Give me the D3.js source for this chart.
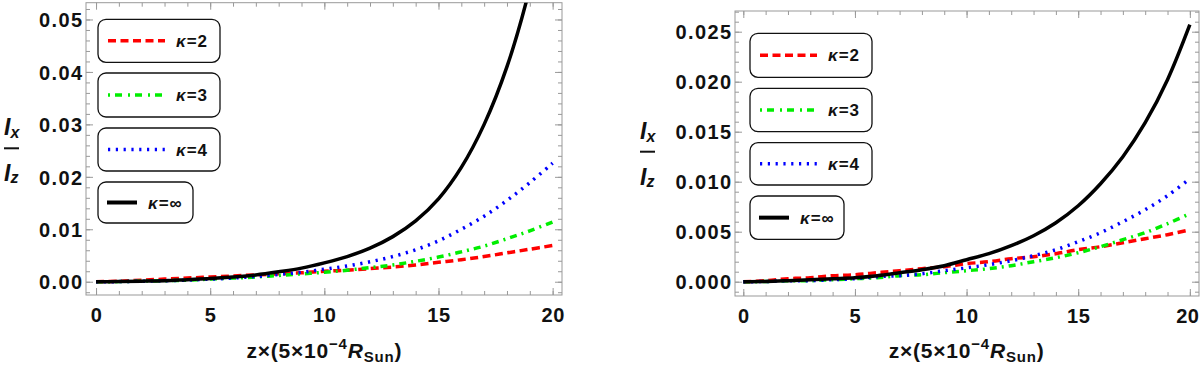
<!DOCTYPE html>
<html>
<head>
<meta charset="utf-8">
<script src="https://cdn.jsdelivr.net/npm/d3@7"></script>
<style>
  body { margin: 0; background: #fff; }
  text { font-family: "Liberation Sans", Arial, sans-serif; font-weight: bold; fill: #111; }
</style>
</head>
<body>
<div id="chart"></div>
<script>
// sample points along z (units of 5e-4 R_sun)
var zValues = [0, 1, 2, 3, 4, 5, 6, 7, 8, 9, 10, 11, 12, 13, 14, 15, 16, 17, 18, 19, 20];

// left panel, Ix/Iz
var leftK2   = [0, 0.0001, 0.0003, 0.0005, 0.0007, 0.0009, 0.0011, 0.0013, 0.0015, 0.0017, 0.0020, 0.0022, 0.0025, 0.0028, 0.0032, 0.0037, 0.0042, 0.0048, 0.0055, 0.0062, 0.0069];
var leftK3   = [0, 0.00002, 0.0001, 0.0002, 0.0003, 0.0005, 0.0007, 0.0009, 0.0012, 0.0015, 0.0018, 0.0022, 0.0027, 0.0032, 0.0039, 0.0047, 0.0057, 0.0068, 0.0082, 0.0097, 0.0114];
var leftK4   = [0, 0.00002, 0.0001, 0.0002, 0.0003, 0.0005, 0.0007, 0.0010, 0.0014, 0.0018, 0.0024, 0.0030, 0.0038, 0.0048, 0.0061, 0.0078, 0.0100, 0.0125, 0.0155, 0.0189, 0.0226];
var leftKinf = [0, 0.00003, 0.0001, 0.0002, 0.0004, 0.0006, 0.0009, 0.0013, 0.0019, 0.0026, 0.0036, 0.0048, 0.0064, 0.0086, 0.0116, 0.0158, 0.0218, 0.0300, 0.0410, 0.0560, 0.0760];

// right panel, Ix/Iz
var rightK2   = [0, 0.0001, 0.0003, 0.0004, 0.0006, 0.0007, 0.0009, 0.0011, 0.0013, 0.0015, 0.0018, 0.0020, 0.0023, 0.0025, 0.0028, 0.0032, 0.0035, 0.0039, 0.0043, 0.0047, 0.0052];
var rightK3   = [0, 0.00002, 0.0001, 0.0001, 0.0002, 0.0003, 0.0004, 0.0006, 0.0007, 0.0009, 0.0011, 0.0013, 0.0016, 0.0020, 0.0024, 0.0029, 0.0035, 0.0042, 0.0049, 0.0058, 0.0068];
var rightK4   = [0, 0.00002, 0.0001, 0.0001, 0.0002, 0.0003, 0.0005, 0.0006, 0.0008, 0.0011, 0.0014, 0.0017, 0.0021, 0.0026, 0.0032, 0.0040, 0.0049, 0.0060, 0.0072, 0.0086, 0.0103];
var rightKinf = [0, 0.00002, 0.0001, 0.0002, 0.0003, 0.0004, 0.0006, 0.0009, 0.0012, 0.0016, 0.0022, 0.0028, 0.0036, 0.0046, 0.0059, 0.0076, 0.0098, 0.0125, 0.0159, 0.0202, 0.0257];

var kappaLabels = ["2", "3", "4", "\u221e"];
var xTicks = [0, 5, 10, 15, 20];
var leftYTicks = [0, 0.01, 0.02, 0.03, 0.04, 0.05];
var rightYTicks = [0, 0.005, 0.010, 0.015, 0.020, 0.025];

var styles = [
  { color: "#ff0000", dash: "8,4.5", width: 3.5 },
  { color: "#00ee00", dash: "7,5,2,5", width: 3.5 },
  { color: "#0000ff", dash: "2.2,5.6", width: 3.5 },
  { color: "#000000", dash: null, width: 3.5 }
];
var legendDash = ["8,4.5", "2,5,7,6", "2.2,5.6", null];

var svg = d3.select("#chart").append("svg")
    .attr("width", 1200)
    .attr("height", 365);

function drawPanel(p, idx) {
  var x = d3.scaleLinear().domain(p.xDomain).range([p.left, p.right]);
  var y = d3.scaleLinear().domain(p.yDomain).range([p.bottom, p.top]);

  var g = svg.append("g");

  svg.append("defs").append("clipPath")
      .attr("id", "clip" + idx)
    .append("rect")
      .attr("x", p.left).attr("y", p.top)
      .attr("width", p.right - p.left).attr("height", p.bottom - p.top);

  var xMinor = d3.range(0, 21, 1);
  var yMinor = d3.range(Math.ceil(p.yDomain[0] / p.yMinorStep), Math.floor(p.yDomain[1] / p.yMinorStep) + 1)
      .map(function(k) { return k * p.yMinorStep; });

  // ticks on all four sides, pointing inward
  function tickAxis(axis, tr, values, len) {
    var a = g.append("g")
        .attr("transform", tr)
        .call(axis.tickValues(values).tickSizeInner(-len).tickSizeOuter(0).tickFormat(""));
    a.select(".domain").remove();
    a.selectAll("line").attr("stroke", "#999").attr("stroke-width", 1);
    return a;
  }
  tickAxis(d3.axisBottom(x), "translate(0," + p.bottom + ")", xMinor, 4);
  tickAxis(d3.axisTop(x), "translate(0," + p.top + ")", xMinor, 4);
  tickAxis(d3.axisLeft(y), "translate(" + p.left + ",0)", yMinor, 4);
  tickAxis(d3.axisRight(y), "translate(" + p.right + ",0)", yMinor, 4);
  tickAxis(d3.axisTop(x), "translate(0," + p.top + ")", xTicks, 7);
  tickAxis(d3.axisRight(y), "translate(" + p.right + ",0)", p.yTicks, 7);

  var bx = g.append("g")
      .attr("transform", "translate(0," + p.bottom + ")")
      .call(d3.axisBottom(x).tickValues(xTicks).tickSizeInner(-7).tickSizeOuter(0).tickFormat(d3.format("d")));
  bx.select(".domain").remove();
  bx.selectAll("line").attr("stroke", "#999");
  bx.selectAll("text")
      .attr("y", 26.5).attr("dy", null)
      .attr("x", function(d) { return d === 20 ? p.lastTickShift : 0; })
      .style("font-size", "20px").style("letter-spacing", "0.6px")
      .attr("fill", "#111");

  var ly = g.append("g")
      .attr("transform", "translate(" + p.left + ",0)")
      .call(d3.axisLeft(y).tickValues(p.yTicks).tickSizeInner(-7).tickSizeOuter(0)
        .tickPadding(2.5).tickFormat(d3.format(p.yFormat)));
  ly.select(".domain").remove();
  ly.selectAll("line").attr("stroke", "#999");
  ly.selectAll("text")
      .attr("dy", "0.36em")
      .style("font-size", "20px").style("letter-spacing", "1.4px")
      .attr("fill", "#111");

  // frame
  g.append("rect")
      .attr("x", p.left).attr("y", p.top)
      .attr("width", p.right - p.left).attr("height", p.bottom - p.top)
      .attr("fill", "none").attr("stroke", "#999").attr("stroke-width", 1);

  // curves
  var line = d3.line()
      .x(function(d, i) { return x(zValues[i]); })
      .y(function(d) { return y(d); })
      .curve(d3.curveCatmullRom.alpha(0.5));

  var cg = g.append("g").attr("clip-path", "url(#clip" + idx + ")");
  p.series.forEach(function(s, i) {
    cg.append("path")
        .datum(s)
        .attr("d", line)
        .attr("fill", "none")
        .attr("stroke", styles[i].color)
        .attr("stroke-width", styles[i].width)
        .attr("stroke-dasharray", styles[i].dash);
  });

  // legend boxes
  p.legendBoxes.forEach(function(b, i) {
    var lg = g.append("g").attr("transform", "translate(" + p.legendX + "," + b[0] + ")");
    var w = i === 3 ? p.legendW4 : p.legendW;
    var h = b[1] - b[0];
    lg.append("rect")
        .attr("x", 0).attr("y", 0).attr("width", w).attr("height", h)
        .attr("rx", 8).attr("ry", 8)
        .attr("fill", "#fff").attr("stroke", "#111").attr("stroke-width", 1.3);
    var x0 = i === 3 ? 9 : 10, x1 = i === 3 ? 39 : 67, tx = i === 3 ? 50 : 78;
    lg.append("line")
        .attr("x1", x0).attr("x2", x1).attr("y1", h / 2).attr("y2", h / 2)
        .attr("stroke", styles[i].color)
        .attr("stroke-width", i === 3 ? 4 : 3.5)
        .attr("stroke-dasharray", legendDash[i]);
    var t = lg.append("text")
        .attr("x", tx).attr("y", h / 2 + 6)
        .style("font-size", "17px").style("letter-spacing", "1px");
    t.append("tspan").attr("font-style", "italic").text("\u03ba");
    t.append("tspan").text("=" + kappaLabels[i]);
  });

  // x title
  var xt = g.append("text")
      .attr("x", x(10)).attr("y", 357.5)
      .attr("text-anchor", "middle")
      .style("font-size", "21px").style("letter-spacing", "0.8px");
  xt.append("tspan").text("z\u00d7(5\u00d710");
  xt.append("tspan").attr("dy", -9).style("font-size", "15px").text("\u22124");
  xt.append("tspan").attr("dy", 9).attr("font-style", "italic").text("R");
  xt.append("tspan").attr("dy", 4).style("font-size", "15px").text("Sun");
  xt.append("tspan").attr("dy", -4).text(")");

  // y title as a fraction
  var cx = p.fracX, cy = p.fracY;
  var top = g.append("text").attr("x", cx - 8).attr("y", cy - 13)
      .style("font-size", "23px").attr("font-style", "italic");
  top.append("tspan").text("I");
  top.append("tspan").attr("dy", 3).style("font-size", "16px").text("x");
  g.append("line")
      .attr("x1", cx - 8).attr("x2", cx + 7).attr("y1", cy).attr("y2", cy)
      .attr("stroke", "#111").attr("stroke-width", 2);
  var bot = g.append("text").attr("x", cx - 8).attr("y", cy + 33)
      .style("font-size", "23px").attr("font-style", "italic");
  bot.append("tspan").text("I");
  bot.append("tspan").attr("dy", 2).style("font-size", "16px").text("z");
}

var panels = [
  {
    left: 86, right: 562, top: 2.7, bottom: 295,
    xDomain: [-0.44, 20.41], yDomain: [-0.00253, 0.0532],
    yTicks: leftYTicks, yFormat: ".2f", yMinorStep: 0.002,
    series: [leftK2, leftK3, leftK4, leftKinf],
    legendX: 98, legendW: 122, legendW4: 95,
    legendBoxes: [[19.3, 62.3], [73, 117], [128, 171], [182, 223]],
    fracX: 12, fracY: 148.3, lastTickShift: 0
  },
  {
    left: 735, right: 1199, top: 11, bottom: 296,
    xDomain: [-0.372, 20.41], yDomain: [-0.00143, 0.02707],
    yTicks: rightYTicks, yFormat: ".3f", yMinorStep: 0.001,
    series: [rightK2, rightK3, rightK4, rightKinf],
    legendX: 750, legendW: 122, legendW4: 94,
    legendBoxes: [[33.3, 77.3], [88.3, 131.7], [142.7, 185], [196, 239.3]],
    fracX: 648, fracY: 151.7, lastTickShift: -2.5
  }
];

panels.forEach(drawPanel);
</script>
</body>
</html>
